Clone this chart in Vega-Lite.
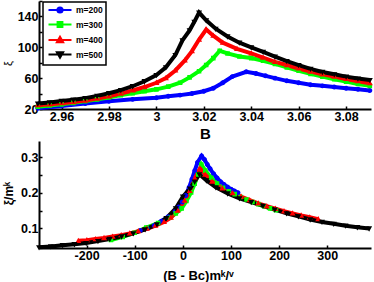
{
  "$schema": "https://vega.github.io/schema/vega-lite/v6.json",
  "padding": {"left": 2, "top": 0, "right": 3, "bottom": 0},
  "bounds": "flush",
  "spacing": 32,
  "config": {
    "view": {"stroke": null},
    "font": "Liberation Sans",
    "legend": {"strokeWidth": 1.5},
    "axis": {"grid": false, "domainColor": "#000", "domainWidth": 2, "tickColor": "#000", "tickWidth": 1.5, "tickSize": -3, "labelFont": "Liberation Sans", "labelFontWeight": "bold", "labelFontSize": 12.5, "labelColor": "#000", "labelPadding": 4, "titleFont": "Liberation Sans", "titleFontWeight": "bold", "titleColor": "#000"}
  },
  "resolve": {"scale": {"color": "independent", "shape": "independent"}},
  "datasets": {
    "top": [
      {"m":"m=200","B":2.950,"xi":21},{"m":"m=200","B":2.960,"xi":24},{"m":"m=200","B":2.970,"xi":27},{"m":"m=200","B":2.980,"xi":30},{"m":"m=200","B":2.990,"xi":32.5},{"m":"m=200","B":3.000,"xi":34.6},{"m":"m=200","B":3.005,"xi":36.5},{"m":"m=200","B":3.010,"xi":38},{"m":"m=200","B":3.015,"xi":40},{"m":"m=200","B":3.020,"xi":43},{"m":"m=200","B":3.024,"xi":47},{"m":"m=200","B":3.028,"xi":54},{"m":"m=200","B":3.032,"xi":62},{"m":"m=200","B":3.0379,"xi":68.3},{"m":"m=200","B":3.042,"xi":66},{"m":"m=200","B":3.046,"xi":63},{"m":"m=200","B":3.050,"xi":60},{"m":"m=200","B":3.055,"xi":56.5},{"m":"m=200","B":3.060,"xi":54},{"m":"m=200","B":3.065,"xi":51.5},{"m":"m=200","B":3.070,"xi":50},{"m":"m=200","B":3.075,"xi":48.5},{"m":"m=200","B":3.080,"xi":47},{"m":"m=200","B":3.085,"xi":45.5},{"m":"m=200","B":3.090,"xi":44},
      {"m":"m=300","B":2.950,"xi":23},{"m":"m=300","B":2.955,"xi":24.5},{"m":"m=300","B":2.960,"xi":26},{"m":"m=300","B":2.965,"xi":28},{"m":"m=300","B":2.970,"xi":30},{"m":"m=300","B":2.975,"xi":32.5},{"m":"m=300","B":2.980,"xi":35},{"m":"m=300","B":2.985,"xi":38},{"m":"m=300","B":2.990,"xi":40.5},{"m":"m=300","B":2.995,"xi":43},{"m":"m=300","B":3.000,"xi":45.5},{"m":"m=300","B":3.005,"xi":49},{"m":"m=300","B":3.010,"xi":54},{"m":"m=300","B":3.014,"xi":61},{"m":"m=300","B":3.018,"xi":69},{"m":"m=300","B":3.021,"xi":77},{"m":"m=300","B":3.024,"xi":86},{"m":"m=300","B":3.0267,"xi":95.5},{"m":"m=300","B":3.030,"xi":92},{"m":"m=300","B":3.035,"xi":88},{"m":"m=300","B":3.040,"xi":86},{"m":"m=300","B":3.045,"xi":82.5},{"m":"m=300","B":3.050,"xi":78.5},{"m":"m=300","B":3.055,"xi":74},{"m":"m=300","B":3.060,"xi":69.5},{"m":"m=300","B":3.065,"xi":65.5},{"m":"m=300","B":3.070,"xi":62},{"m":"m=300","B":3.075,"xi":58.5},{"m":"m=300","B":3.080,"xi":55.5},{"m":"m=300","B":3.085,"xi":52.5},{"m":"m=300","B":3.090,"xi":50},
      {"m":"m=400","B":2.950,"xi":25},{"m":"m=400","B":2.955,"xi":26},{"m":"m=400","B":2.960,"xi":27.5},{"m":"m=400","B":2.965,"xi":29},{"m":"m=400","B":2.970,"xi":31},{"m":"m=400","B":2.975,"xi":33.5},{"m":"m=400","B":2.980,"xi":36.5},{"m":"m=400","B":2.985,"xi":40},{"m":"m=400","B":2.990,"xi":44},{"m":"m=400","B":2.995,"xi":48.5},{"m":"m=400","B":3.000,"xi":54},{"m":"m=400","B":3.004,"xi":60},{"m":"m=400","B":3.008,"xi":70},{"m":"m=400","B":3.012,"xi":83},{"m":"m=400","B":3.015,"xi":95},{"m":"m=400","B":3.018,"xi":110},{"m":"m=400","B":3.021,"xi":123},{"m":"m=400","B":3.024,"xi":115},{"m":"m=400","B":3.028,"xi":106},{"m":"m=400","B":3.034,"xi":98},{"m":"m=400","B":3.040,"xi":92},{"m":"m=400","B":3.045,"xi":86.5},{"m":"m=400","B":3.050,"xi":81},{"m":"m=400","B":3.055,"xi":77},{"m":"m=400","B":3.060,"xi":72.5},{"m":"m=400","B":3.065,"xi":68.5},{"m":"m=400","B":3.070,"xi":65},{"m":"m=400","B":3.075,"xi":62},{"m":"m=400","B":3.080,"xi":59},{"m":"m=400","B":3.085,"xi":56},{"m":"m=400","B":3.090,"xi":53.5},
      {"m":"m=500","B":2.950,"xi":27},{"m":"m=500","B":2.955,"xi":28.5},{"m":"m=500","B":2.960,"xi":30.5},{"m":"m=500","B":2.965,"xi":32},{"m":"m=500","B":2.970,"xi":34},{"m":"m=500","B":2.975,"xi":37},{"m":"m=500","B":2.980,"xi":40.5},{"m":"m=500","B":2.985,"xi":44.5},{"m":"m=500","B":2.990,"xi":49.5},{"m":"m=500","B":2.995,"xi":56},{"m":"m=500","B":3.000,"xi":64},{"m":"m=500","B":3.004,"xi":74},{"m":"m=500","B":3.008,"xi":90},{"m":"m=500","B":3.011,"xi":109},{"m":"m=500","B":3.014,"xi":122},{"m":"m=500","B":3.016,"xi":133},{"m":"m=500","B":3.018,"xi":145},{"m":"m=500","B":3.021,"xi":135},{"m":"m=500","B":3.025,"xi":124},{"m":"m=500","B":3.030,"xi":114},{"m":"m=500","B":3.035,"xi":106},{"m":"m=500","B":3.040,"xi":100},{"m":"m=500","B":3.045,"xi":94},{"m":"m=500","B":3.050,"xi":88},{"m":"m=500","B":3.055,"xi":82},{"m":"m=500","B":3.060,"xi":77},{"m":"m=500","B":3.065,"xi":72},{"m":"m=500","B":3.070,"xi":68},{"m":"m=500","B":3.075,"xi":65},{"m":"m=500","B":3.080,"xi":62},{"m":"m=500","B":3.085,"xi":59.5},{"m":"m=500","B":3.090,"xi":57.5}
    ],
    "bot": [
      {"m":"m=200","x":-88.5,"y":0.094},{"m":"m=200","x":-74,"y":0.101},{"m":"m=200","x":-59.5,"y":0.108},{"m":"m=200","x":-45,"y":0.12},{"m":"m=200","x":-30.5,"y":0.133},{"m":"m=200","x":-16,"y":0.148},{"m":"m=200","x":-8.7,"y":0.16},{"m":"m=200","x":-1.5,"y":0.174},{"m":"m=200","x":5.8,"y":0.192},{"m":"m=200","x":13,"y":0.215},{"m":"m=200","x":18.9,"y":0.238},{"m":"m=200","x":24.7,"y":0.262},{"m":"m=200","x":30.5,"y":0.285},{"m":"m=200","x":39,"y":0.303},{"m":"m=200","x":44.9,"y":0.293},{"m":"m=200","x":50.8,"y":0.279},{"m":"m=200","x":56.6,"y":0.267},{"m":"m=200","x":63.8,"y":0.253},{"m":"m=200","x":71.1,"y":0.241},{"m":"m=200","x":78.3,"y":0.231},{"m":"m=200","x":85.6,"y":0.223},{"m":"m=200","x":92.8,"y":0.216},{"m":"m=200","x":100.1,"y":0.21},{"m":"m=200","x":107.3,"y":0.205},{"m":"m=200","x":114.6,"y":0.2},
      {"m":"m=300","x":-149.5,"y":0.0673},{"m":"m=300","x":-125,"y":0.076},{"m":"m=300","x":-100.5,"y":0.0877},{"m":"m=300","x":-76,"y":0.1023},{"m":"m=300","x":-51.5,"y":0.115},{"m":"m=300","x":-27,"y":0.13},{"m":"m=300","x":-14.7,"y":0.142},{"m":"m=300","x":-2.5,"y":0.156},{"m":"m=300","x":7.4,"y":0.177},{"m":"m=300","x":17.2,"y":0.201},{"m":"m=300","x":24.5,"y":0.225},{"m":"m=300","x":31.9,"y":0.2515},{"m":"m=300","x":38.5,"y":0.279},{"m":"m=300","x":46.6,"y":0.262},{"m":"m=300","x":58.8,"y":0.242},{"m":"m=300","x":71.1,"y":0.226},{"m":"m=300","x":83.3,"y":0.214},{"m":"m=300","x":95.6,"y":0.204},{"m":"m=300","x":107.8,"y":0.196},{"m":"m=300","x":120.1,"y":0.188},{"m":"m=300","x":132.3,"y":0.181},{"m":"m=300","x":144.6,"y":0.174},{"m":"m=300","x":156.8,"y":0.168},{"m":"m=300","x":169.1,"y":0.162},{"m":"m=300","x":181.3,"y":0.156},{"m":"m=300","x":193.6,"y":0.151},
      {"m":"m=400","x":-217.3,"y":0.065},{"m":"m=400","x":-199.5,"y":0.067},{"m":"m=400","x":-181.7,"y":0.07},{"m":"m=400","x":-163.9,"y":0.073},{"m":"m=400","x":-146,"y":0.077},{"m":"m=400","x":-128.2,"y":0.081},{"m":"m=400","x":-110.4,"y":0.086},{"m":"m=400","x":-92.6,"y":0.092},{"m":"m=400","x":-74.8,"y":0.099},{"m":"m=400","x":-57,"y":0.108},{"m":"m=400","x":-39.2,"y":0.118},{"m":"m=400","x":-24.9,"y":0.13},{"m":"m=400","x":-10.7,"y":0.15},{"m":"m=400","x":3.6,"y":0.178},{"m":"m=400","x":14.2,"y":0.205},{"m":"m=400","x":24.9,"y":0.24},{"m":"m=400","x":35.6,"y":0.268},{"m":"m=400","x":46.3,"y":0.251},{"m":"m=400","x":60.6,"y":0.231},{"m":"m=400","x":81.9,"y":0.212},{"m":"m=400","x":103.3,"y":0.199},{"m":"m=400","x":121.1,"y":0.189},{"m":"m=400","x":138.9,"y":0.179},{"m":"m=400","x":156.7,"y":0.17},{"m":"m=400","x":174.5,"y":0.162},{"m":"m=400","x":192.3,"y":0.155},{"m":"m=400","x":210.2,"y":0.148},{"m":"m=400","x":228,"y":0.142},{"m":"m=400","x":245.8,"y":0.136},{"m":"m=400","x":263.6,"y":0.131},{"m":"m=400","x":281.4,"y":0.126},
      {"m":"m=500","x":-298.9,"y":0.0469},{"m":"m=500","x":-274.4,"y":0.0495},{"m":"m=500","x":-249.9,"y":0.053},{"m":"m=500","x":-225.4,"y":0.0556},{"m":"m=500","x":-200.9,"y":0.059},{"m":"m=500","x":-176.4,"y":0.0642},{"m":"m=500","x":-151.9,"y":0.0703},{"m":"m=500","x":-127.4,"y":0.0773},{"m":"m=500","x":-102.9,"y":0.0859},{"m":"m=500","x":-78.4,"y":0.0972},{"m":"m=500","x":-53.9,"y":0.1111},{"m":"m=500","x":-34.3,"y":0.1285},{"m":"m=500","x":-14.7,"y":0.1563},{"m":"m=500","x":0,"y":0.1892},{"m":"m=500","x":14.7,"y":0.2118},{"m":"m=500","x":24.5,"y":0.2309},{"m":"m=500","x":34.3,"y":0.2517},{"m":"m=500","x":49,"y":0.2344},{"m":"m=500","x":68.6,"y":0.2153},{"m":"m=500","x":93.1,"y":0.1979},{"m":"m=500","x":117.6,"y":0.184},{"m":"m=500","x":142.1,"y":0.1736},{"m":"m=500","x":166.6,"y":0.1632},{"m":"m=500","x":191.1,"y":0.1528},{"m":"m=500","x":215.6,"y":0.1424},{"m":"m=500","x":240.1,"y":0.1337},{"m":"m=500","x":264.6,"y":0.125},{"m":"m=500","x":289.1,"y":0.1181},{"m":"m=500","x":313.6,"y":0.1128},{"m":"m=500","x":338.1,"y":0.1076},{"m":"m=500","x":362.6,"y":0.1033},{"m":"m=500","x":387.1,"y":0.0998}
    ]
  },
  "vconcat": [
    {
      "width": 332,
      "height": 108,
      "data": {"name": "top"},
      "encoding": {
        "x": {"field": "B", "type": "quantitative", "scale": {"domain": [2.9505, 3.0905], "nice": false, "zero": false},
          "axis": {"values": [2.96, 2.98, 3, 3.02, 3.04, 3.06, 3.08], "labelExpr": "toString(datum.value)", "title": "B", "titleFontSize": 15, "titleBaseline": "middle", "titleY": 24}},
        "y": {"field": "xi", "type": "quantitative", "scale": {"domain": [20, 160], "nice": false, "zero": false},
          "axis": {"values": [20, 40, 60, 80, 100, 120, 140, 160], "labelExpr": "datum.value % 40 == 20 ? toString(datum.value) : ''", "title": "ξ", "titleFontWeight": "normal", "titleFontSize": 11, "titleX": -31, "titleY": 62, "titleBaseline": "middle"}},
        "color": {"field": "m", "type": "nominal",
          "scale": {"domain": ["m=200", "m=300", "m=400", "m=500"], "range": ["#0000ff", "#00ff00", "#ff0000", "#000000"]},
          "legend": {"orient": "none", "legendX": 4, "legendY": 1, "title": null, "padding": 3, "symbolSize": 55, "symbolStrokeWidth": 2, "rowPadding": 0.5, "symbolOffset": 9, "labelOffset": 11, "labelFontSize": 8.5, "labelFontWeight": "bold", "labelFont": "Liberation Sans", "labelColor": "#000", "fillColor": "#ffffff", "strokeColor": "#000"}
        }
      },
      "layer": [
        {"mark": {"type": "line", "strokeWidth": 4}},
        {"mark": {"type": "point", "filled": true, "opacity": 1, "size": 50},
          "encoding": {
            "shape": {"field": "m", "type": "nominal", "scale": {"domain": ["m=200", "m=300", "m=400", "m=500"], "range": ["M-3.1,0H3.1 M0.7,0A0.7,0.7 0 1,1 -0.7,0A0.7,0.7 0 1,1 0.7,0Z", "M-3.1,0H3.1 M-0.65,-0.65H0.65V0.65H-0.65Z", "M-3.1,0H3.1 M0,-0.9L0.85,0.6H-0.85Z", "M-3.1,0H3.1 M0,0.9L0.85,-0.6H-0.85Z"]},
              "legend": {"orient": "none", "legendX": 4, "legendY": 1, "title": null, "padding": 3, "symbolSize": 55, "symbolStrokeWidth": 2, "rowPadding": 0.5, "symbolOffset": 9, "labelOffset": 11, "labelFontSize": 8.5, "labelFontWeight": "bold", "labelFont": "Liberation Sans", "labelColor": "#000", "fillColor": "#ffffff", "strokeColor": "#000"}}
          }}
      ]
    },
    {
      "width": 332,
      "height": 107,
      "data": {"name": "bot"},
      "encoding": {
        "x": {"field": "x", "type": "quantitative", "scale": {"domain": [-299, 391], "nice": false, "zero": false},
          "axis": {"values": [-200, -100, 0, 100, 200, 300], "labelExpr": "toString(datum.value)", "title": "(B - Bc)mᵏ/ᵛ", "titleFontSize": 13, "titleBaseline": "middle", "titleY": 27, "titleX": 159}},
        "y": {"field": "y", "type": "quantitative", "scale": {"domain": [0.045, 0.345], "nice": false, "zero": false},
          "axis": {"values": [0.1, 0.15, 0.2, 0.25, 0.3], "labelExpr": "abs(datum.value * 10 - round(datum.value * 10)) < 0.01 ? toString(datum.value) : ''", "title": "ξ/mᵏ", "titleFontSize": 12, "titleX": -31, "titleY": 52, "titleBaseline": "middle"}},
        "color": {"field": "m", "type": "nominal",
          "scale": {"domain": ["m=200", "m=300", "m=400", "m=500"], "range": ["#0000ff", "#00ff00", "#ff0000", "#000000"]}, "legend": null}
      },
      "layer": [
        {"mark": {"type": "line", "strokeWidth": 4}},
        {"mark": {"type": "point", "filled": true, "opacity": 1, "size": 50},
          "encoding": {
            "shape": {"field": "m", "type": "nominal", "scale": {"domain": ["m=200", "m=300", "m=400", "m=500"], "range": ["M-3.1,0H3.1 M0.7,0A0.7,0.7 0 1,1 -0.7,0A0.7,0.7 0 1,1 0.7,0Z", "M-3.1,0H3.1 M-0.65,-0.65H0.65V0.65H-0.65Z", "M-3.1,0H3.1 M0,-0.9L0.85,0.6H-0.85Z", "M-3.1,0H3.1 M0,0.9L0.85,-0.6H-0.85Z"]}, "legend": null}
          }}
      ]
    }
  ]
}
